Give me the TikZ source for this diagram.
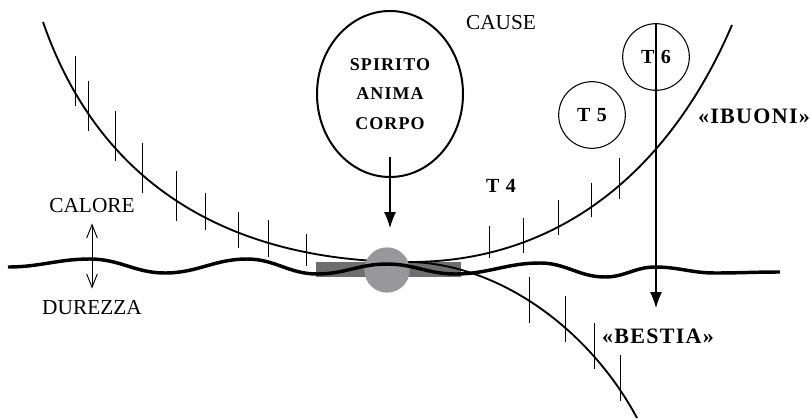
\documentclass[tikz,border=0pt]{standalone}
\usepackage{fontspec}
\setmainfont{Liberation Serif}
\newfontfamily\spaziato[LetterSpace=6]{Liberation Serif}
\usetikzlibrary{arrows.meta,shapes.geometric}

\definecolor{grigioscuro}{HTML}{6E6E6E}
\definecolor{grigiochiaro}{HTML}{98989B}

\begin{document}
\begin{tikzpicture}[x=0.75pt,y=-0.75pt,
	ramo/.style={line width=1.4pt},
	tacca/.style={line width=0.7pt},
	onda/.style={line width=2.6pt},
	freccia/.style={line width=0.8pt,-{Latex[length=12pt,width=9pt]}},
	scritta/.style={font=\fontsize{16}{19}\selectfont,inner sep=1pt},
	nome/.style={font=\spaziato\bfseries\fontsize{16.5}{19}\selectfont,inner sep=1pt},
	tondo/.style={circle,draw,line width=0.8pt,minimum size=50pt,inner sep=0pt,font=\spaziato\bfseries\fontsize{15}{17}\selectfont}]
	%
	% Cadre
	\useasboundingbox (0,0) rectangle (810,418);
	%
	% Zone de contact
	\fill[grigioscuro] (316,262) rectangle (461,277);
	%
	% Les deux branches
	\draw[ramo] (43,22) .. controls (110,215) and (270,262) .. (410,262) .. controls (560,262) and (670,170) .. (732,25);
	\draw[ramo] (410,262) .. controls (500,264) and (590,330) .. (637,418);
	%
	% Graduations
	\foreach \x/\a/\b in {75/56/106,88/81/131,115/111/161,142/143/193,176/171/221,205/193/230,238/212/248,268/220/257,306/234/266}
		\draw[tacca] (\x,\a) -- (\x,\b);
	\foreach \x/\a/\b in {489/226/258,523/218/253,558/200/235,591/183/217,619/158/199}
		\draw[tacca] (\x,\a) -- (\x,\b);
	\foreach \x/\a/\b in {529/277/323,565/296/342,594/323/369,620/355/401}
		\draw[tacca] (\x,\a) -- (\x,\b);
	%
	\fill[grigiochiaro] (387,270) circle [radius=17pt];
	%
	% Ligne ondulée
	\draw[onda] (8,267) to[out=0,in=180] (90,259) to[out=0,in=180] (165,273) to[out=0,in=180] (247,259) to[out=0,in=180] (317,274) to[out=0,in=180] (387,264) to[out=0,in=180] (455,274) to[out=0,in=180] (540,263) to[out=0,in=180] (605,277) to[out=0,in=180] (655,267) to[out=0,in=180] (715,273) to[out=0,in=180] (780,272);
	%
	% Noeuds
	\node[ellipse,draw,line width=1.5pt,minimum width=109.5pt,minimum height=124.5pt,inner sep=0pt,align=center,font=\spaziato\bfseries\fontsize{13.5}{22}\selectfont] (triade) at (390,94) {SPIRITO\\ANIMA\\CORPO};
	\node[tondo] (tsei) at (656,57) {T 6};
	\node[tondo] (tcinque) at (592,115) {T 5};
	\node[nome,font=\spaziato\bfseries\fontsize{15}{17}\selectfont] (tquattro) at (501,186) {T 4};
	\node[nome] (buoni) at (754,116) {«IBUONI»};
	\node[nome] (bestia) at (658,336) {«BESTIA»};
	\node[scritta] (cause) at (501,23) {CAUSE};
	\node[scritta] (calore) at (92,206) {CALORE};
	\node[scritta] (durezza) at (92,308) {DUREZZA};
	%
	% Flèches
	\coordinate (urto) at (390,228);
	\coordinate (giu) at (656,308);
	\draw[freccia] ([yshift=16pt]triade.south) -- (urto);
	\draw[freccia] (tsei.north) -- (giu);
	\draw[line width=0.7pt,{Straight Barb[length=10pt,width=8pt]}-{Straight Barb[length=10pt,width=8pt]},shorten <=6.5pt,shorten >=8pt] (calore.south) -- (durezza.north);
\end{tikzpicture}
\end{document}
